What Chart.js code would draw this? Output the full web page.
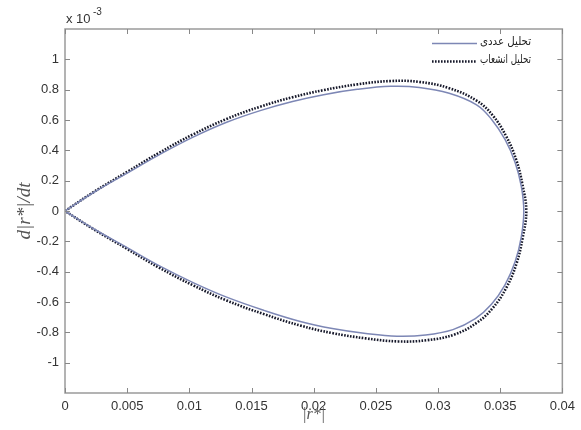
<!DOCTYPE html>
<html>
<head>
<meta charset="utf-8">
<script src="https://cdn.jsdelivr.net/npm/chart.js@4.4.0/dist/chart.umd.min.js"></script>
<style>
  body { margin: 0; background: #fff; }
  #wrap { width: 581px; height: 430px; }
</style>
</head>
<body>
<div id="wrap"><canvas id="myChart" width="581" height="430"></canvas></div>
<script>
// values; y in units of 1e-3
const solidX = [0, 0.0023, 0.005, 0.0076, 0.0103, 0.013, 0.0157, 0.0183, 0.0208, 0.0235, 0.0262, 0.0285, 0.0309, 0.0331, 0.0343, 0.0354, 0.0362, 0.0367, 0.0369,
  0.0367, 0.0362, 0.0354, 0.0343, 0.033, 0.0312, 0.029, 0.0267, 0.0242, 0.0215, 0.019, 0.016, 0.013, 0.0103, 0.0076, 0.005, 0.0023, 0];
const solidY = [0, 0.122, 0.25, 0.372, 0.487, 0.585, 0.662, 0.722, 0.767, 0.802, 0.822, 0.815, 0.776, 0.7, 0.605, 0.47, 0.32, 0.163, 0,
  -0.17, -0.335, -0.485, -0.615, -0.71, -0.782, -0.818, -0.826, -0.808, -0.775, -0.73, -0.655, -0.568, -0.472, -0.362, -0.242, -0.117, 0];
const dotX = [0, 0.0023, 0.005, 0.0076, 0.0103, 0.013, 0.0157, 0.0183, 0.0208, 0.0235, 0.0262, 0.0285, 0.0309, 0.0331, 0.0344, 0.0355, 0.0363, 0.0368, 0.0371,
  0.0368, 0.0363, 0.0355, 0.0344, 0.0331, 0.0313, 0.0291, 0.0268, 0.0242, 0.0215, 0.019, 0.016, 0.013, 0.0103, 0.0076, 0.005, 0.0023, 0];
const dotY = [0, 0.125, 0.258, 0.385, 0.505, 0.607, 0.688, 0.75, 0.797, 0.835, 0.857, 0.851, 0.81, 0.728, 0.63, 0.49, 0.335, 0.17, 0,
  -0.18, -0.35, -0.505, -0.64, -0.738, -0.815, -0.852, -0.86, -0.84, -0.805, -0.757, -0.68, -0.59, -0.49, -0.375, -0.25, -0.12, 0];
const xTicks = [0, 0.005, 0.01, 0.015, 0.02, 0.025, 0.03, 0.035, 0.04];
const yTicks = [-1, -0.8, -0.6, -0.4, -0.2, 0, 0.2, 0.4, 0.6, 0.8, 1];
const seriesNames = ["تحلیل عددی", "تحلیل انشعاب"];

function toPoints(xs, ys) {
  return xs.map((x, i) => ({ x: x, y: ys[i] }));
}
function fmt(v) {
  return String(Number(v.toFixed(4)));
}

const frame = {
  id: "frame",
  afterDatasetsDraw(chart) {
    const ctx = chart.ctx;
    const a = chart.chartArea;
    const xs = chart.scales.x, ys = chart.scales.y;
    ctx.save();
    // box
    ctx.strokeStyle = "#9a9a9a";
    ctx.lineWidth = 1.5;
    ctx.strokeRect(a.left, a.top, a.right - a.left, a.bottom - a.top);
    // inward ticks, all four sides
    ctx.lineWidth = 1;
    ctx.strokeStyle = "#888";
    ctx.beginPath();
    xTicks.forEach((t) => {
      const px = Math.round(xs.getPixelForValue(t)) + 0.5;
      ctx.moveTo(px, a.bottom); ctx.lineTo(px, a.bottom - 5);
      ctx.moveTo(px, a.top); ctx.lineTo(px, a.top + 5);
    });
    yTicks.forEach((t) => {
      const py = Math.round(ys.getPixelForValue(t)) + 0.5;
      ctx.moveTo(a.left, py); ctx.lineTo(a.left + 5, py);
      ctx.moveTo(a.right, py); ctx.lineTo(a.right - 5, py);
    });
    ctx.stroke();

    // exponent
    ctx.fillStyle = "#333";
    ctx.textBaseline = "alphabetic";
    ctx.textAlign = "left";
    ctx.font = "13px 'Liberation Sans', Arial, sans-serif";
    ctx.fillText("x 10", a.left + 1, 23);
    ctx.font = "10px 'Liberation Sans', Arial, sans-serif";
    ctx.fillText("-3", a.left + 28, 15);

    // axis titles
    ctx.fillStyle = "#555";
    ctx.font = "italic 16px 'Liberation Serif', 'DejaVu Serif', serif";
    ctx.textAlign = "center";
    ctx.textBaseline = "middle";
    ctx.fillText("|r*|", (a.left + a.right) / 2, 415);
    ctx.save();
    ctx.translate(25, (a.top + a.bottom) / 2);
    ctx.rotate(-Math.PI / 2);
    ctx.font = "italic 19px 'Liberation Serif', 'DejaVu Serif', serif";
    ctx.fillText("d|r*|/dt", 0, 0);
    ctx.restore();

    // legend
    const rows = [43, 61];
    chart.data.datasets.forEach((ds, i) => {
      const y = rows[i] + 0.5;
      ctx.strokeStyle = ds.borderColor;
      ctx.lineWidth = ds.borderWidth;
      ctx.setLineDash(ds.borderDash || []);
      ctx.beginPath();
      ctx.moveTo(432, y); ctx.lineTo(477, y);
      ctx.stroke();
      ctx.setLineDash([]);
      ctx.fillStyle = "#222";
      ctx.font = "12px 'DejaVu Sans', sans-serif";
      ctx.textAlign = "right";
      ctx.textBaseline = "middle";
      const w = ctx.measureText(ds.label).width;
      const sx = Math.min(1, 51 / w);
      ctx.save();
      ctx.translate(531, rows[i] - 1);
      ctx.scale(sx, 1);
      ctx.fillText(ds.label, 0, 0);
      ctx.restore();
    });
    ctx.restore();
  },
};

const chart = new Chart(document.getElementById("myChart"), {
  type: "scatter",
  data: {
    datasets: [
      {
        label: seriesNames[0],
        data: toPoints(solidX, solidY),
        showLine: true,
        tension: 0.4,
        borderColor: "#7d87b5",
        borderWidth: 1.5,
        pointRadius: 0,
      },
      {
        label: seriesNames[1],
        data: toPoints(dotX, dotY),
        showLine: true,
        tension: 0.4,
        borderColor: "#16182a",
        borderWidth: 2.6,
        borderDash: [1.6, 1.4],
        pointRadius: 0,
      },
    ],
  },
  options: {
    responsive: false,
    animation: false,
    layout: { padding: { top: 29, right: 18, left: 0, bottom: 0 } },
    plugins: { legend: { display: false }, tooltip: { enabled: false } },
    scales: {
      x: {
        type: "linear",
        min: 0,
        max: 0.04,
        afterBuildTicks: (s) => { s.ticks = xTicks.map((v) => ({ value: v })); },
        afterFit: (s) => { s.height = 37; },
        grid: { display: false, drawTicks: false },
        border: { display: false },
        ticks: {
          padding: 6,
          color: "#333",
          font: { family: "'Liberation Sans', Arial, sans-serif", size: 13 },
          maxRotation: 0,
          callback: (v) => fmt(v),
        },
      },
      y: {
        type: "linear",
        min: -1.2,
        max: 1.2,
        afterBuildTicks: (s) => { s.ticks = yTicks.map((v) => ({ value: v })); },
        afterFit: (s) => { s.width = 65; },
        grid: { display: false, drawTicks: false },
        border: { display: false },
        ticks: {
          padding: 6,
          color: "#333",
          font: { family: "'Liberation Sans', Arial, sans-serif", size: 13 },
          callback: (v) => fmt(v),
        },
      },
    },
  },
  plugins: [frame],
});
</script>
</body>
</html>
